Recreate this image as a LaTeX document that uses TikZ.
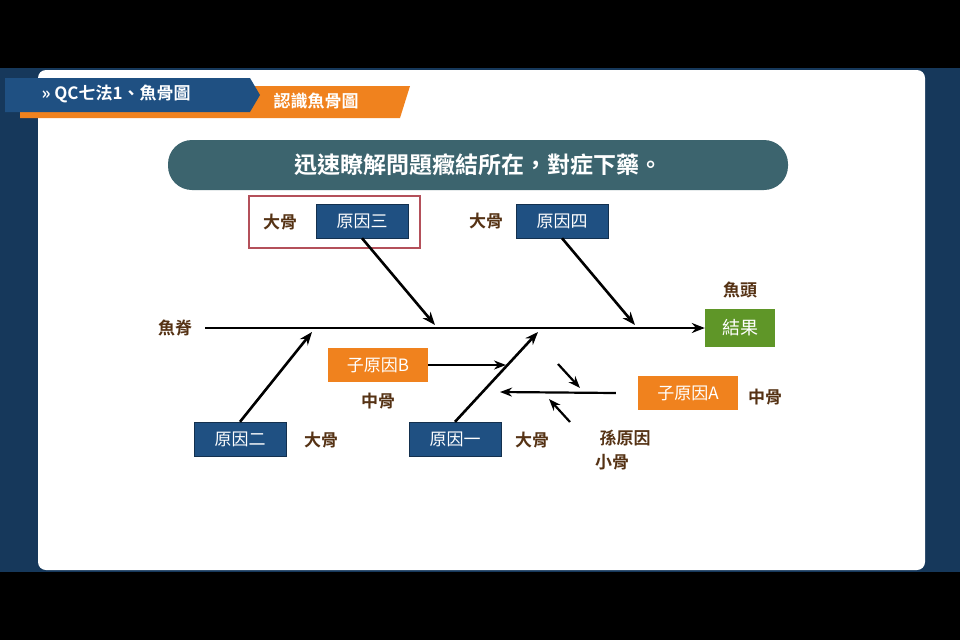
\documentclass[tikz,border=0pt]{standalone}
\usepackage{fontspec}
\setmainfont{Noto Sans CJK TC}[BoldFont={* Bold}]
\usetikzlibrary{arrows.meta,positioning}
\definecolor{capblue}{RGB}{31,80,130}
\definecolor{capteal}{RGB}{60,100,110}
\definecolor{caporange}{RGB}{240,130,30}
\definecolor{capgreen}{RGB}{95,150,40}
\definecolor{capbrown}{RGB}{85,50,20}
\definecolor{capred}{RGB}{180,80,90}
\tikzset{
  bigbox/.style={draw=capblue!60!black,fill=capblue,text=white,minimum width=92pt,minimum height=34pt,font=\fontsize{17}{17}\selectfont,inner sep=2pt},
  midbox/.style={fill=caporange,text=white,minimum width=100pt,minimum height=34pt,font=\fontsize{17}{17}\selectfont,inner sep=2pt},
  lbl/.style={text=capbrown,font=\bfseries\fontsize{17}{17}\selectfont},
  bone/.style={-{Stealth[length=13pt,width=10pt]},line width=2.6pt},
  thinbone/.style={-{Stealth[length=12pt,width=9pt]},line width=2.2pt}
}
\begin{document}
\begin{tikzpicture}[x=1pt,y=-1pt]
\useasboundingbox (0,0) rectangle (960,640);
%% Background
\fill[black] (0,0) rectangle (960,640);
\fill[capblue!70!black] (0,68) rectangle (960,572);
\fill[white,rounded corners=8pt] (38,70) rectangle (925,570);
%% Header tabs
\fill[caporange] (20,86) -- (410,86) -- (400,118) -- (20,118) -- cycle;
\node[text=white,font=\bfseries\fontsize{17}{17}\selectfont,anchor=west] (tabb) at (270,101) {認識魚骨圖};
\fill[capblue] (5,78) -- (250,78) -- (260,95) -- (250,112) -- (5,112) -- cycle;
\node[text=white,font=\bfseries\fontsize{17}{17}\selectfont,anchor=west] (taba) at (38,94) {» QC七法1、魚骨圖};
%% Title
\node[fill=capteal,text=white,rounded corners=24pt,minimum width=620pt,minimum height=50pt,font=\bfseries\fontsize{23}{23}\selectfont] (title) at (478,165) {迅速瞭解問題癥結所在，對症下藥。};
%% Spine
\node[lbl] (spine) at (175,328) {魚脊};
\node[fill=capgreen,text=white,minimum width=70pt,minimum height=38pt,font=\fontsize{18}{18}\selectfont] (result) at (740,328) {結果};
\node[lbl] (head) at (740,290) {魚頭};
\coordinate (s0) at (205,328);
\draw[bone] (s0) -- (result.west);
%% Big bones
\node[bigbox] (c3) at (362,221) {原因三};
\node[lbl] (l3) at (280,222) {大骨};
\draw[capred,line width=2.5pt] (249,196) rectangle (420,248);
\node[bigbox] (c4) at (562,221) {原因四};
\node[lbl] (l4) at (486,221) {大骨};
\node[bigbox] (c2) at (240,439) {原因二};
\node[lbl] (l2) at (321,440) {大骨};
\node[bigbox] (c1) at (455,439) {原因一};
\node[lbl] (l1) at (532,440) {大骨};
\coordinate (e3) at (435,325);
\coordinate (e4) at (635,325);
\coordinate (e2) at (312,332);
\coordinate (e1) at (538,332);
\draw[bone] (c3.south) -- (e3);
\draw[bone] (c4.south) -- (e4);
\draw[bone] (c2.north) -- (e2);
\draw[bone] (c1.north) -- (e1);
%% Middle bones
\node[midbox] (sb) at (378,365) {子原因B};
\node[lbl] (lb) at (378,401) {中骨};
\coordinate (eb) at (506,365);
\draw[thinbone] (sb.east) -- (eb);
\node[midbox] (sa) at (688,393) {子原因A};
\node[lbl] (la) at (765,397) {中骨};
\coordinate (ea) at (500,392);
\draw[thinbone] (sa.west) ++(-22,0) coordinate (sa0) -- (ea);
%% Small bones
\coordinate (t0) at (558,364);
\coordinate (t1) at (580,388);
\coordinate (u0) at (570,422);
\coordinate (u1) at (549,399);
\draw[thinbone] (t0) -- (t1);
\draw[thinbone] (u0) -- (u1);
\node[lbl] (gc) at (625,438) {孫原因};
\node[lbl] (lc) at (612,462) {小骨};
\end{tikzpicture}
\end{document}
